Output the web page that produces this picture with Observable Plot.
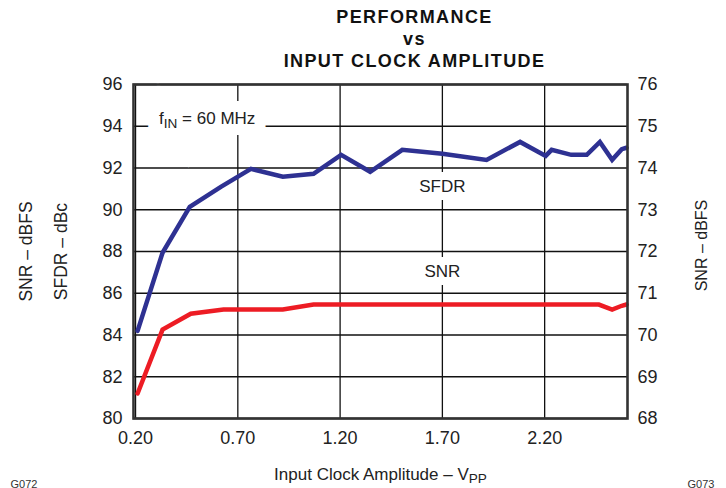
<!DOCTYPE html>
<html>
<head>
<meta charset="utf-8">
<script src="https://cdn.jsdelivr.net/npm/d3@7"></script>
<script src="https://cdn.jsdelivr.net/npm/@observablehq/plot@0.6"></script>
<style>
  html, body { margin: 0; padding: 0; background: #fff; }
  svg { display: block; }
</style>
</head>
<body>
<div id="chart"></div>
<script>
// Input clock amplitude (V_PP) sample points
const sfdrX = [0.21, 0.332, 0.465, 0.617, 0.764, 0.92, 1.07, 1.205, 1.347, 1.504, 1.70, 1.916, 2.08, 2.205, 2.234, 2.33, 2.406, 2.47, 2.53, 2.577, 2.60];
// SFDR (dBc), left axis
const sfdrVals = [84.2, 87.94, 90.14, 91.1, 91.96, 91.58, 91.72, 92.63, 91.82, 92.87, 92.68, 92.39, 93.25, 92.58, 92.87, 92.63, 92.63, 93.25, 92.39, 92.9, 92.97];
const snrX = [0.21, 0.332, 0.47, 0.63, 0.92, 1.07, 2.465, 2.53, 2.577, 2.60];
// SNR (dBFS), right axis
const snrVals = [68.6, 70.13, 70.51, 70.61, 70.61, 70.73, 70.73, 70.61, 70.7, 70.73];

const xTicks = [0.2, 0.7, 1.2, 1.7, 2.2];
const yLeftTicks = [80, 82, 84, 86, 88, 90, 92, 94, 96];
const yRightTicks = [68, 69, 70, 71, 72, 73, 74, 75, 76];

const seriesLabels = [
  {x: 1.70, y: 91.1, text: "SFDR"},
  {x: 1.70, y: 87.05, text: "SNR"}
];
const noteLabel = [{x: 0.315, y: 94.35, text: "fIN = 60 MHz"}];

// right axis (68..76) mapped onto left axis (80..96)
const rightToLeft = v => 80 + (v - 68) * 2;
const leftToRight = v => 68 + (v - 80) / 2;

const sfdr = sfdrX.map((x, i) => ({x, v: sfdrVals[i]}));
const snr = snrX.map((x, i) => ({x, v: snrVals[i]}));

const font = "'Liberation Sans', Arial, Helvetica, sans-serif";

const chart = Plot.plot({
  width: 726,
  height: 488,
  marginLeft: 133,
  marginRight: 99,
  marginTop: 84,
  marginBottom: 70,
  style: {fontFamily: font, fontSize: "17px", color: "#222", background: "#fff", overflow: "visible"},
  x: {domain: [0.19, 2.605]},
  y: {domain: [80, 96]},
  marks: [
    Plot.gridX(xTicks, {stroke: "#111", strokeOpacity: 1, strokeWidth: 1.3}),
    Plot.gridY(yLeftTicks, {stroke: "#111", strokeOpacity: 1, strokeWidth: 1.3}),
    // white knock-out behind in-plot labels
    Plot.text(seriesLabels, {x: "x", y: "y", text: "text", fontSize: 17, fill: "white", stroke: "white", strokeWidth: 16, strokeLinejoin: "miter"}),
    Plot.text(noteLabel, {x: "x", y: "y", text: "text", textAnchor: "start", fontSize: 17, fill: "white", stroke: "white", strokeWidth: 22, strokeLinejoin: "miter", className: "fin-halo"}),
    Plot.line(sfdr, {x: "x", y: "v", stroke: "#2e3192", strokeWidth: 4.5, strokeLinejoin: "miter", strokeMiterlimit: 3}),
    Plot.line(snr, {x: "x", y: d => rightToLeft(d.v), stroke: "#ed1c24", strokeWidth: 4.5, strokeLinejoin: "miter", strokeMiterlimit: 3}),
    Plot.frame({stroke: "#333", strokeWidth: 2.6}),
    Plot.text(seriesLabels, {x: "x", y: "y", text: "text", fontSize: 17, fill: "#222"}),
    Plot.text(noteLabel, {x: "x", y: "y", text: "text", textAnchor: "start", fontSize: 17, fill: "#222", className: "fin-text"}),
    Plot.axisX(xTicks, {tickSize: 0, tickPadding: 13, tickFormat: d3.format(".2f"), label: null, fontSize: 18}),
    Plot.axisY(yLeftTicks, {anchor: "left", tickSize: 0, tickPadding: 11, label: null, fontSize: 18}),
    Plot.axisY(yLeftTicks, {anchor: "right", tickSize: 0, tickPadding: 10, tickFormat: d => String(leftToRight(d)), label: null, fontSize: 18}),
    // titles
    Plot.text(["PERFORMANCE\nvs\nINPUT CLOCK AMPLITUDE"], {frameAnchor: "top", dx: 34, dy: -77, lineAnchor: "top", lineHeight: 1.22, fontSize: 18, fontWeight: "bold", fill: "#111", className: "title"}),
    Plot.text(["SNR – dBFS"], {frameAnchor: "left", textAnchor: "middle", dx: -107, dy: 0, rotate: -90, fontSize: 17.5, fill: "#222"}),
    Plot.text(["SFDR – dBc"], {frameAnchor: "left", textAnchor: "middle", dx: -72, dy: 0, rotate: -90, fontSize: 17.5, fill: "#222"}),
    Plot.text(["SNR – dBFS"], {frameAnchor: "right", textAnchor: "middle", dx: 74, dy: -6, rotate: -90, fontSize: 16, fill: "#222"}),
    Plot.text(["Input Clock Amplitude – VPP"], {frameAnchor: "bottom", dy: 61, fontSize: 17, fill: "#222", className: "xlabel"}),
    Plot.text(["G072"], {frameAnchor: "bottom-left", dx: -123, dy: 69, textAnchor: "start", fontSize: 11, fill: "#333"}),
    Plot.text(["G073"], {frameAnchor: "bottom-right", dx: 60, dy: 69, textAnchor: "start", fontSize: 11, fill: "#333"})
  ]
});

document.getElementById("chart").appendChild(chart);

// subscripts
function subscriptify(selector, pre, sub, post) {
  d3.select(chart).selectAll(selector + " text").each(function() {
    const t = d3.select(this);
    t.text(null);
    t.append("tspan").text(pre);
    t.append("tspan").attr("dy", "0.25em").attr("font-size", "0.8em").text(sub);
    if (post) t.append("tspan").attr("dy", "-0.25em").text(post);
  });
}
subscriptify(".fin-halo", "f", "IN", " = 60 MHz");
subscriptify(".fin-text", "f", "IN", " = 60 MHz");
subscriptify(".xlabel", "Input Clock Amplitude – V", "PP", "");
d3.select(chart).selectAll(".title text").attr("letter-spacing", "1.4px");
</script>
</body>
</html>
